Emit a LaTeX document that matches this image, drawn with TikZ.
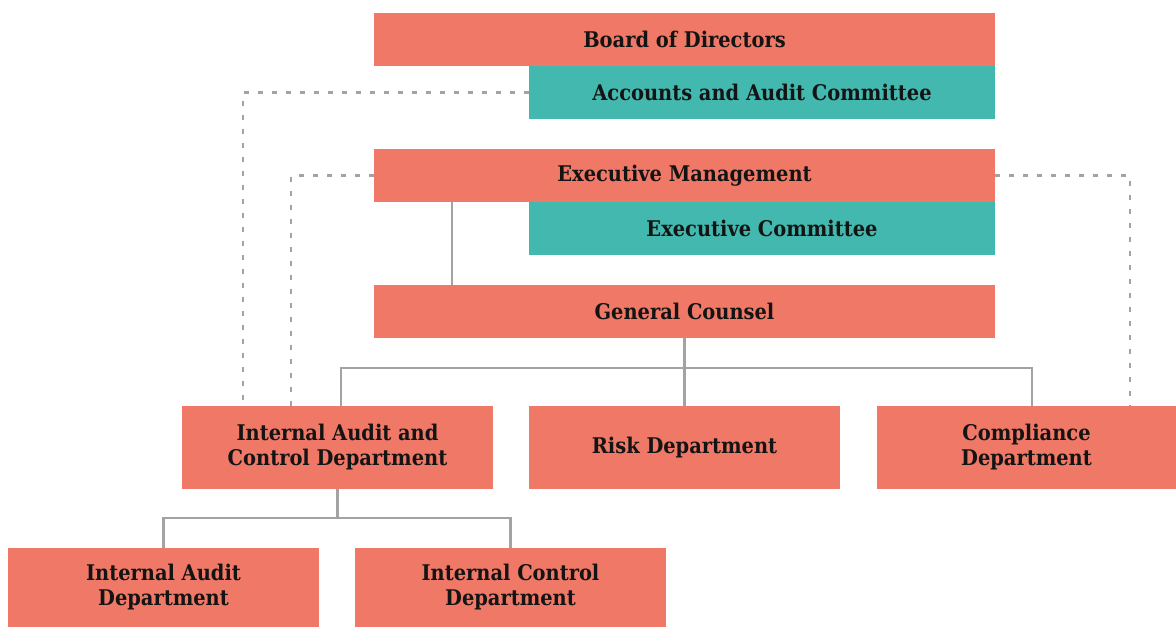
\documentclass[tikz,border=0pt]{standalone}
\usepackage{fontspec}
\IfFontExistsTF{DejaVu Serif Condensed}{\setmainfont{DejaVu Serif Condensed}}{\setmainfont{DejaVu Serif}}
\definecolor{salmon}{HTML}{EF7866}
\definecolor{teal}{HTML}{43B8AF}
\definecolor{linegray}{HTML}{A3A3A3}
\definecolor{ink}{HTML}{141414}
\begin{document}
\begin{tikzpicture}[x=0.5pt,y=-0.5pt,
  box/.style={fill=salmon, draw=none, inner sep=0pt, align=center, text=ink, font=\bfseries\fontsize{10.8}{12.5}\selectfont},
  tbox/.style={box, fill=teal},
  wide/.style={minimum width=310.5pt, minimum height=26.5pt},
  half/.style={minimum width=233pt, minimum height=26.5pt},
  dept/.style={minimum width=155.5pt, minimum height=41.5pt},
  sub/.style={minimum width=155.5pt, minimum height=39.5pt},
  solidline/.style={draw=linegray, line width=1.1pt},
  dotline/.style={draw=linegray, line width=1.1pt, dash pattern=on 2.5pt off 4.5pt}]
\useasboundingbox (0,0) rectangle (1176,627);
\node[box, wide] (board) at (684.5,39.5) {Board of Directors};
\node[tbox, half] (acc) at (762,92.5) {Accounts and Audit Committee};
\node[box, wide] (execm) at (684.5,175.5) {Executive Management};
\node[tbox, half] (execc) at (762,228.5) {Executive Committee};
\node[box, wide] (gc) at (684.5,311.5) {General Counsel};
\node[box, dept] (iac) at (337.5,447.5) {Internal Audit and\\Control Department};
\node[box, dept] (risk) at (684.5,447.5) {Risk Department};
\node[box, dept, minimum width=149.5pt] (comp) at (1026.5,447.5) {Compliance\\Department};
\node[box, sub] (iad) at (163.5,587.5) {Internal Audit\\Department};
\node[box, sub] (icd) at (510.5,587.5) {Internal Control\\Department};
\coordinate (bus) at (0,368);
\coordinate (bus2) at (0,518);
% solid connectors
\draw[solidline] ([xshift=39pt]execm.south west) -- ([xshift=39pt]gc.north west);
\draw[solidline] (gc.south) -- (risk.north);
\draw[solidline] ([xshift=1.75pt]iac.north) |- (bus -| gc.south);
\draw[solidline] ([xshift=2.75pt]comp.north) |- (bus -| gc.south);
\draw[solidline] (iac.south) -- (bus2 -| iac.south);
\draw[solidline] (iad.north) |- (bus2 -| iac.south) -| (icd.north);
% dashed connectors
\draw[dotline] (acc.west) -| ([xshift=30.5pt]iac.north west);
\draw[dotline] (execm.west) -| ([xshift=54.5pt]iac.north west);
\draw[dotline] (execm.east) -| ([xshift=126.5pt]comp.north west);
\end{tikzpicture}
\end{document}
